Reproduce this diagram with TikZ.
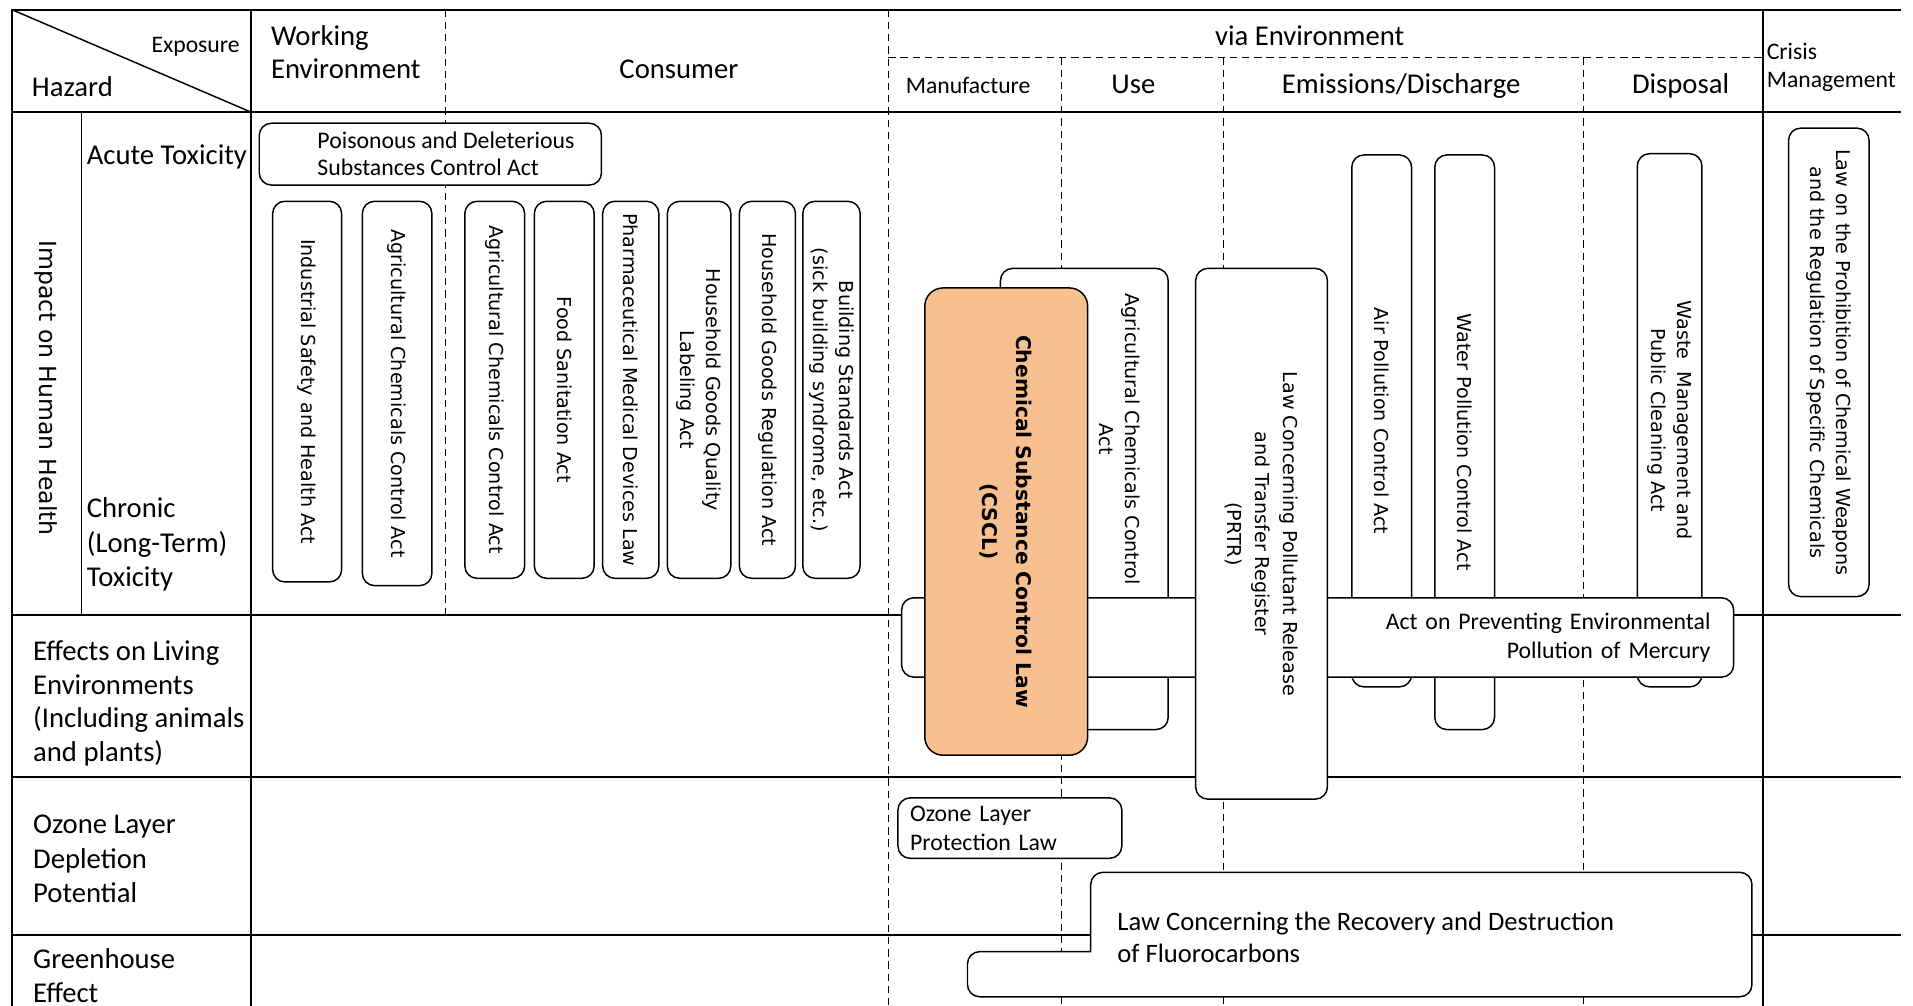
\documentclass[tikz,border=0pt]{standalone}
\usepackage{fontspec}
\setmainfont{Carlito}
\newfontfamily\dvs{DejaVu Sans}
\definecolor{csclfill}{RGB}{248,192,144}
\tikzset{
  tline/.style={line width=1.6pt, line cap=rect},
  thinline/.style={line width=1.2pt},
  dline/.style={line width=1.1pt, dash pattern=on 6pt off 4pt},
  lawbox/.style={draw, line width=1.2pt, rounded corners=10pt, fill=white, inner sep=0pt},
  vlaw/.style={lawbox, rotate=-90, font=\dvs\fontsize{15.7}{21.5}\selectfont, align=center},
  vtxt/.style={rotate=-90, font=\dvs\fontsize{15.7}{21.5}\selectfont, align=center, inner sep=0pt},
  htxt/.style={font=\fontsize{19.5}{23.5}\selectfont},
  bigtxt/.style={font=\fontsize{23.5}{28}\selectfont, inner sep=0pt},
  smalltxt/.style={font=\fontsize{19.4}{23}\selectfont, inner sep=0pt},
}
\begin{document}
\begin{tikzpicture}[x=1pt, y=-1pt]
\useasboundingbox[fill=white] (0,0) rectangle (1568,824);
% ---------- table grid ----------
\draw[tline] (10,8) -- (1557,8);
\draw[tline] (10,92) -- (1557,92);
\draw[tline] (10,504) -- (1557,504);
\draw[tline] (10,637) -- (1557,637);
\draw[tline] (10,766) -- (1557,766);
\draw[tline] (10,8) -- (10,830);
\draw[tline] (206,8) -- (206,830);
\draw[tline] (1445,8) -- (1445,830);
\draw[thinline] (67,92) -- (67,504);
\draw[thinline] (10,8) -- (206,92);
\draw[dline] (365,8) -- (365,504);
\draw[dline] (728,8) -- (728,830);
\draw[dline] (728,47) -- (1445,47);
\draw[dline] (870,47) -- (870,830);
\draw[dline] (1003,47) -- (1003,830);
\draw[dline] (1298,47) -- (1298,830);
% ---------- header ----------
\node[smalltxt, anchor=base west] (exposure) at (124,43) {Exposure};
\node[bigtxt, anchor=base west] (hazard) at (26,79) {Hazard};
\node[bigtxt, anchor=base west, align=left, font=\fontsize{23.5}{27.3}\selectfont] (workenv) at (222,64.3) {Working\\Environment};
\node[bigtxt, anchor=base] (consumer) at (556.5,64) {Consumer};
\node[bigtxt, anchor=base] (viaenv) at (1073.5,37) {via Environment};
\node[smalltxt, anchor=base] (manuf) at (793.5,77) {Manufacture};
\node[bigtxt, anchor=base] (use) at (929,77) {Use};
\node[bigtxt, anchor=base] (emis) at (1148.5,77) {Emissions/Discharge};
\node[bigtxt, anchor=base] (disp) at (1377.5,77) {Disposal};
\node[smalltxt, anchor=base west, align=left] (crisis) at (1448,72) {Crisis\\Management};
% ---------- row labels ----------
\node[rotate=-90, font=\dvs\fontsize{19.3}{23}\selectfont, inner sep=0pt] (humanhealth) at (38,318) {Impact on Human Health};
\node[bigtxt, anchor=base west] (acute) at (71,135) {Acute Toxicity};
\node[bigtxt, anchor=base west, align=left, font=\fontsize{23.5}{28.5}\selectfont] (chronic) at (71,481) {Chronic\\(Long-Term)\\Toxicity};
\node[bigtxt, anchor=base west, align=left, font=\fontsize{23.5}{27.8}\selectfont] (living) at (27,624.5) {Effects on Living\\Environments\\(Including animals\\and plants)};
\node[bigtxt, anchor=base west, align=left, font=\fontsize{23.5}{28.5}\selectfont] (ozone) at (27,740) {Ozone Layer\\Depletion\\Potential};
\node[bigtxt, anchor=base west, align=left, font=\fontsize{23.5}{27.5}\selectfont] (greenhouse) at (27,821.5) {Greenhouse\\Effect};
% ---------- working environment / consumer laws ----------
\node[lawbox, minimum width=280.5pt, minimum height=50.7pt] (poison) at (352.75,126.35) {};
\node[anchor=base west, align=left, inner sep=0pt, font=\fontsize{19.5}{22}\selectfont] (poisontxt) at (260,143.5) {Poisonous and Deleterious\\Substances Control Act};
\node[vlaw, minimum width=312pt, minimum height=56.5pt] (isha) at (251.75,321) {Industrial Safety and Health Act};
\node[vlaw, minimum width=315pt, minimum height=57pt] (acca) at (325.5,322.5) {Agricultural Chemicals Control Act};
\node[vlaw, minimum width=309pt, minimum height=49pt] (accb) at (405.5,319.5) {Agricultural Chemicals Control Act};
\node[vlaw, minimum width=309pt, minimum height=49pt] (fsa) at (462.5,319.5) {Food Sanitation Act};
\node[vlaw, minimum width=309pt, minimum height=46pt] (pmdl) at (517,319.5) {Pharmaceutical Medical Devices Law};
\node[vlaw, minimum width=309pt, minimum height=52pt] (hgql) at (573,319.5) {Household Goods Quality\\Labeling Act};
\node[vlaw, minimum width=309pt, minimum height=46pt] (hgra) at (629,319.5) {Household Goods Regulation Act};
\node[vlaw, minimum width=309pt, minimum height=47pt] (bsa) at (681.5,319.5) {Building Standards Act\\(sick building syndrome, etc.)};
% ---------- via environment laws ----------
\node[lawbox, rotate=-90, minimum width=378pt, minimum height=137.5pt] (accu) at (888.75,409) {};
\node[vtxt] (accutxt) at (918,360) {Agricultural Chemicals Control\\Act};
\node[vlaw, minimum width=436pt, minimum height=49pt] (apca) at (1132.5,345) {Air Pollution Control Act};
\node[vlaw, minimum width=471pt, minimum height=49pt] (wpca) at (1200.5,362.5) {Water Pollution Control Act};
\node[vlaw, minimum width=437pt, minimum height=53pt] (wmpc) at (1368.5,344.5) {Waste\ \ Management and\\Public Cleaning Act};
\node[lawbox, minimum width=682pt, minimum height=65pt, text width=644pt, inner xsep=19pt, align=right, htxt] (merc) at (1080,522.5) {Act on Preventing Environmental\\Pollution of Mercury};
\node[lawbox, rotate=-90, fill=csclfill, rounded corners=15pt, minimum width=383pt, minimum height=133.5pt, font=\dvs\bfseries\fontsize{16.6}{28}\selectfont, align=center] (cscl) at (824.75,427.5) {Chemical Substance Control Law\\(CSCL)};
\node[vlaw, minimum width=435pt, minimum height=108pt, font=\dvs\fontsize{15.7}{23}\selectfont] (prtr) at (1034,437.5) {Law Concerning Pollutant Release\\and Transfer Register\\(PRTR)};
\node[vlaw, minimum width=384pt, minimum height=66pt] (cwc) at (1499,297) {Law on the Prohibition of Chemical Weapons\\and the Regulation of Specific Chemicals};
\node[lawbox, minimum width=183.5pt, minimum height=49.5pt, text width=163.5pt, inner xsep=10pt, align=left, htxt] (ozl) at (827.75,678.75) {Ozone Layer\\Protection Law};
\draw[line width=1.2pt, fill=white] (894,780) -- (894,745) [rounded corners=10pt] -- (894,715) -- (1436,715) -- (1436,817) -- (793,817) -- (793,780) -- (860,780) [sharp corners] -- (894,780) -- cycle;
\node[font=\fontsize{21.8}{26}\selectfont, anchor=base west, align=left, inner sep=0pt] (fluorotxt) at (915.7,789) {Law Concerning the Recovery and Destruction\\of Fluorocarbons};
\end{tikzpicture}
\end{document}
